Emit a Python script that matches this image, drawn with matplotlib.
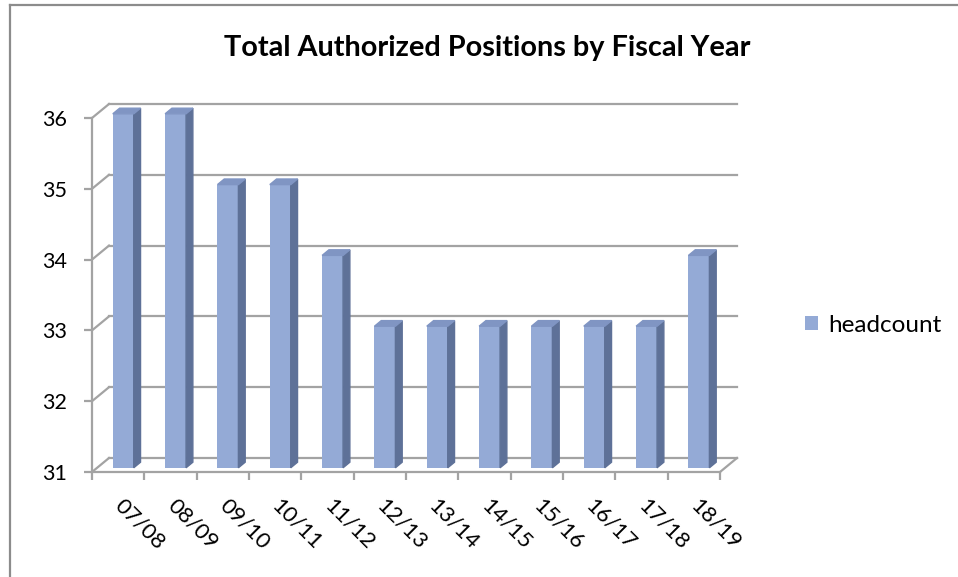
import matplotlib.pyplot as plt
from matplotlib.patches import Polygon
from matplotlib.lines import Line2D

years = ["07/08", "08/09", "09/10", "10/11", "11/12", "12/13",
         "13/14", "14/15", "15/16", "16/17", "17/18", "18/19"]
headcount = [36, 36, 35, 35, 34, 33, 33, 33, 33, 33, 33, 34]
y_ticks = [31, 32, 33, 34, 35, 36]

# colours of the 3d columns
face_col = "#94aad6"
side_col = "#5e7198"
top_col = "#8095c3"
grid_col = "#a3a3a3"

plt.rcParams["font.family"] = ["Lato", "DejaVu Sans"]

W, H = 958, 577
fig = plt.figure(figsize=(W / 100, H / 100), dpi=100)

# plot area (front plane) in pixels
x0, x1 = 92, 720
y_top, y_bot = 118, 472
ax = fig.add_axes([x0 / W, 1 - y_bot / H, (x1 - x0) / W, (y_bot - y_top) / H])

n = len(years)
ymin, ymax = y_ticks[0], y_ticks[-1]
ax.set_xlim(0, n)
ax.set_ylim(ymin, ymax)

# oblique depth offset in data units
DX = 17 / ((x1 - x0) / n)
DY = 14 / ((y_bot - y_top) / (ymax - ymin))
d0, d1 = 0.3, 0.7      # bar depth range
w = 0.4                # bar width

def pt(u, y, d):
    return (u + d * DX, y + d * DY)

# back wall gridlines and side wall diagonals
for y in y_ticks:
    ax.plot([DX, n + DX], [y + DY, y + DY], color=grid_col, lw=1.6,
            clip_on=False, zorder=1)
    ax.plot([0, DX], [y, y + DY], color=grid_col, lw=1.6,
            clip_on=False, zorder=1)
ax.plot([n, n + DX], [ymin, ymin + DY], color=grid_col, lw=1.6,
        clip_on=False, zorder=1)

# columns
centers = [i + 0.5 for i in range(n)]
vals = [v - ymin for v in headcount]
bars = ax.bar([c + d0 * DX for c in centers], vals, bottom=ymin + d0 * DY,
              width=w, color=face_col, zorder=3, label="headcount")
for b in bars:
    b.set_clip_on(False)
for c, v in zip(centers, headcount):
    l, r = c - w / 2, c + w / 2
    side = [pt(r, ymin, d0), pt(r, ymin, d1), pt(r, v, d1), pt(r, v, d0)]
    top = [pt(l, v, d0), pt(r, v, d0), pt(r, v, d1), pt(l, v, d1)]
    ax.add_patch(Polygon(side, closed=True, color=side_col, zorder=3,
                         clip_on=False))
    ax.add_patch(Polygon(top, closed=True, color=top_col, zorder=3,
                         clip_on=False))

# axes styling
for s in ["top", "right"]:
    ax.spines[s].set_visible(False)
for s in ["left", "bottom"]:
    ax.spines[s].set_color(grid_col)
    ax.spines[s].set_linewidth(1.6)
    ax.spines[s].set_zorder(2)

ax.set_yticks(y_ticks)
ax.set_xticks(range(n + 1))
ax.set_xticklabels([])
ax.set_xticks(centers, minor=True)
ax.set_xticklabels(years, minor=True, rotation=-45, ha="left", va="center",
                   rotation_mode="anchor", fontsize=16)
ax.tick_params(axis="x", which="minor", length=0, pad=22)
ax.tick_params(axis="x", which="major", length=6, width=1.6, color=grid_col)
ax.tick_params(axis="y", length=6, width=1.6, color=grid_col, pad=12,
               labelsize=15.5)

fig.text(487 / W, 1 - 56 / H, "Total Authorized Positions by Fiscal Year",
         ha="center", va="baseline", fontsize=20.8, fontweight="bold")

fig.legend(handles=[bars], loc="center left",
           bbox_to_anchor=(805 / W, 1 - 325 / H), frameon=False,
           borderpad=0, borderaxespad=0,
           fontsize=17.5, handlelength=0.55, handleheight=0.55,
           handletextpad=0.4)

# chart frame (only top and left visible)
fig.add_artist(Line2D([10 / W, 10 / W], [0, 1 - 5 / H],
                      transform=fig.transFigure, color="#8c8c8c", lw=1.6))
fig.add_artist(Line2D([10 / W, 1], [1 - 5 / H, 1 - 5 / H],
                      transform=fig.transFigure, color="#8c8c8c", lw=1.6))

fig.savefig("out.png", dpi=100)
